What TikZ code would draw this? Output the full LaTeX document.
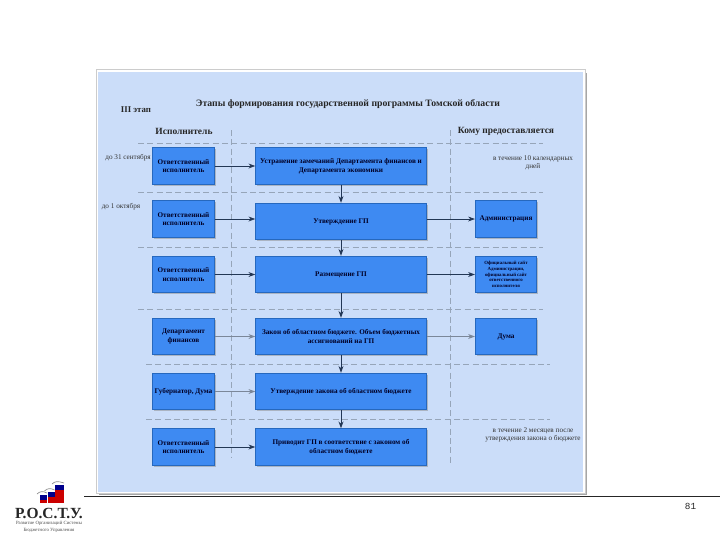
\documentclass[tikz,border=0pt]{standalone}
\usepackage{fontspec}
\setmainfont{Liberation Serif}
\setmonofont{Liberation Mono}
\usepackage{xcolor}
\usetikzlibrary{arrows.meta, shadows}
\definecolor{panelblue}{RGB}{203, 221, 249}
\definecolor{boxblue}{RGB}{62, 138, 242}
\definecolor{boxedge}{RGB}{38, 104, 190}
\definecolor{linkdark}{RGB}{35, 55, 85}
\definecolor{gridgray}{RGB}{150, 165, 185}

\begin{document}
\begin{tikzpicture}[
    x=0.75pt, y=-0.75pt,
    box/.style={rectangle, draw=boxedge, line width=0.6pt, fill=boxblue, align=center, inner sep=0pt,
        font=\fontsize{5.4}{6.6}\selectfont\bfseries, text=black!85!blue,
        drop shadow={shadow xshift=1pt, shadow yshift=-1pt, fill=black!45, opacity=0.5}},
    leftbox/.style={box, minimum width=46pt, minimum height=27.5pt},
    midbox/.style={box, minimum width=128pt, minimum height=27.5pt},
    rightbox/.style={box, minimum width=46pt, minimum height=27.5pt},
    arrow/.style={-{Stealth[length=1.8mm, width=1.3mm]}, line width=0.6pt, linkdark},
    softarrow/.style={arrow, linkdark!60},
    grid/.style={dashed, dash pattern=on 4.5pt off 2.5pt, line width=0.4pt, gridgray},
    note/.style={font=\fontsize{5.4}{6}\selectfont, text=black!80, align=center, inner sep=0pt},
    head/.style={font=\fontsize{7.1}{8}\selectfont\bfseries, text=black!85, inner sep=0pt}
]
    \useasboundingbox (0,0) rectangle (720,540);

    % Panel
    \fill[black!35] (99,73) rectangle (587,495);
    \filldraw[draw=black!20, fill=white, line width=0.4pt] (96,69) rectangle (585,493);
    \fill[panelblue] (98,72) rectangle (583,492);

    % Grid
    \foreach \y in {143,192,247,309} \draw[grid] (138,\y) -- (543,\y);
    \foreach \y in {364,419} \draw[grid] (146,\y) -- (550,\y);
    \draw[grid] (231,130) -- (231,458);
    \draw[grid] (450,130) -- (450,463);

    % Headings
    \node[font=\fontsize{7.3}{9}\selectfont\bfseries, text=black!85, inner sep=0pt] (title) at (348,104) {Этапы формирования государственной программы Томской области};
    \node[head, font=\fontsize{6.6}{8}\selectfont\bfseries] (stage) at (136,110) {III этап};
    \node[head] (actor) at (184,131) {Исполнитель};
    \node[head] (target) at (506,131) {Кому предоставляется};

    % Dates
    \node[note] (date1) at (128,158) {до 31 сентября};
    \node[note] (date2) at (121,207) {до 1 октября};
    \node[note] (term1) at (533,162.5) {в течение 10 календарных\\дней};
    \node[note] (term2) at (533,434.5) {в течение 2 месяцев после\\утверждения закона о бюджете};

    % Left column
    \node[leftbox] (left1) at (183.5,166) {Ответственный\\исполнитель};
    \node[leftbox] (left2) at (183.5,219) {Ответственный\\исполнитель};
    \node[leftbox] (left3) at (183.5,274.5) {Ответственный\\исполнитель};
    \node[leftbox] (left4) at (183.5,336.5) {Департамент\\финансов};
    \node[leftbox] (left5) at (183.5,391.5) {Губернатор, Дума};
    \node[leftbox] (left6) at (183.5,447) {Ответственный\\исполнитель};

    % Middle column
    \node[midbox] (mid1) at (341,166) {Устранение замечаний Департамента финансов и\\Департамента экономики};
    \node[midbox] (mid2) at (341,221.5) {Утверждение ГП};
    \node[midbox] (mid3) at (341,274.5) {Размещение ГП};
    \node[midbox] (mid4) at (341,336.5) {Закон об областном бюджете. Объем бюджетных\\ассигнований на ГП};
    \node[midbox] (mid5) at (341,391.5) {Утверждение закона об областном бюджете};
    \node[midbox] (mid6) at (341,447) {Приводит ГП в соответствие с законом об\\областном бюджете};

    % Right column
    \node[rightbox] (right2) at (506,219) {Администрация};
    \node[rightbox, font=\fontsize{3.6}{4.3}\selectfont\bfseries] (right3) at (506,274.5) {Официальный сайт\\Администрации,\\официальный сайт\\ответственного\\исполнителя};
    \node[rightbox] (right4) at (506,336.5) {Дума};

    % Arrows
    \draw[arrow] (left1) -- (mid1);
    \draw[arrow] (left2) -- (left2 -| mid2.west);
    \draw[arrow] (left3) -- (mid3);
    \draw[softarrow] (left4) -- (mid4);
    \draw[softarrow] (left5) -- (mid5);
    \draw[arrow] (left6) -- (mid6);
    \draw[arrow] (mid2.east |- right2) -- (right2);
    \draw[arrow] (mid3) -- (right3);
    \draw[softarrow] (mid4) -- (right4);
    \foreach \a/\b in {mid1/mid2, mid2/mid3, mid3/mid4, mid4/mid5, mid5/mid6}
        \draw[arrow] (\a) -- (\b);

    % Footer
    \coordinate (rule1) at (84,496);
    \coordinate (rule2) at (720,496);
    \draw[line width=0.6pt, black!85] (rule1) -- (rule2);
    \node[font=\fontsize{7}{8}\selectfont\ttfamily, text=black!85, inner sep=0pt] (page) at (690.5,506.5) {81};

    % Logo
    \foreach \x/\w/\t in {40/7/495, 47.5/7/492, 55/9/485} {
        \fill[blue!55!black] (\x,\t) rectangle (\x+\w,\t+5);
        \fill[red!80!black] (\x,\t+5) rectangle (\x+\w,503);
        \draw[black!45, line width=0.5pt] (\x-3,\t-1) .. controls (\x,\t-4) and (\x+3,\t-4) .. (\x+\w,\t-2);
    }
    \node[font=\fontsize{11.6}{13}\selectfont\bfseries, text=black!85, inner sep=0pt] (logo) at (49,513) {Р.О.С.Т.У.};
    \node[font=\fontsize{3.6}{4.9}\selectfont, text=black!70, align=center, inner sep=0pt] (logotext) at (49,527) {Развитие Организаций Системы\\Бюджетного Управления};
\end{tikzpicture}
\end{document}
